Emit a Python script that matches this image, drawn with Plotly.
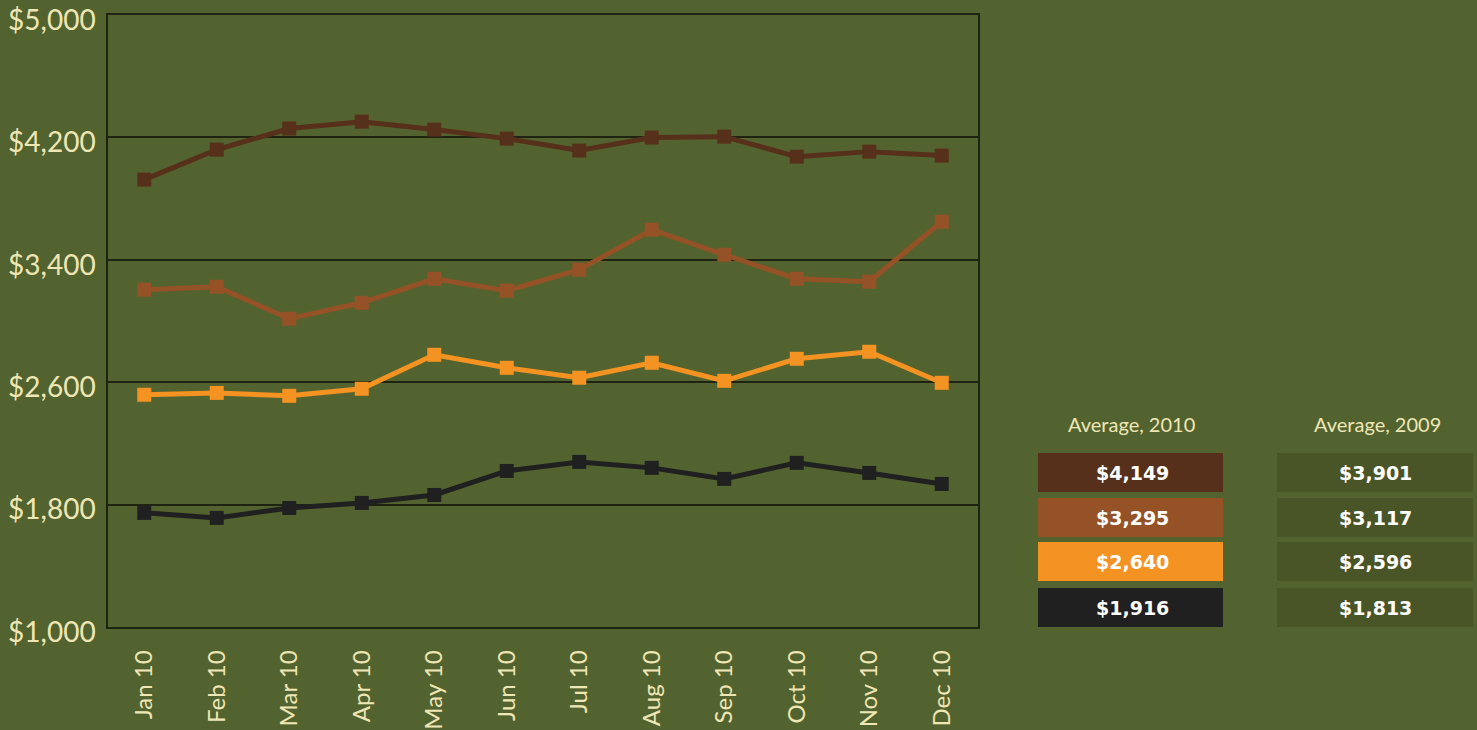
import plotly.graph_objects as go

# Monthly averages, 2010
months = ["Jan 10", "Feb 10", "Mar 10", "Apr 10", "May 10", "Jun 10",
          "Jul 10", "Aug 10", "Sep 10", "Oct 10", "Nov 10", "Dec 10"]
series_top = [3924, 4120, 4258, 4303, 4251, 4192, 4114, 4199, 4205, 4074, 4107, 4081]
series_upper = [3204, 3224, 3015, 3119, 3276, 3198, 3335, 3597, 3433, 3276, 3257, 3649]
series_lower = [2518, 2530, 2511, 2557, 2779, 2694, 2629, 2727, 2609, 2753, 2799, 2596]
series_bottom = [1746, 1713, 1778, 1811, 1863, 2020, 2079, 2040, 1968, 2073, 2007, 1935]

avg_2010 = [4149, 3295, 2640, 1916]
avg_2009 = [3901, 3117, 2596, 1813]
header_2010 = "Average, 2010"
header_2009 = "Average, 2009"

y_ticks = [1000, 1800, 2600, 3400, 4200, 5000]

colors = ["#56301a", "#955226", "#f49222", "#202020"]
bg = "#53632f"
cream = "#efe6b5"

W, H = 1477, 730
L, R, T, B = 108, 978, 15, 627

fig = go.Figure()
for vals, col in zip([series_top, series_upper, series_lower, series_bottom], colors):
    fig.add_trace(go.Scatter(
        x=months, y=vals, mode="lines+markers",
        line=dict(color=col, width=5),
        marker=dict(symbol="square", size=14, color=col),
        showlegend=False, hoverinfo="skip"))


def px_x(x):
    return (x - L) / (R - L)


def px_y(y):
    return (B - y) / (B - T)


# Average tables on the right
box_rows = [(453, 492), (498, 537), (542, 581), (588, 627)]
shapes = []
annotations = []
for i, (y0, y1) in enumerate(box_rows):
    shapes.append(dict(type="rect", xref="paper", yref="paper",
                       x0=px_x(1038), x1=px_x(1223), y0=px_y(y1), y1=px_y(y0),
                       fillcolor=colors[i], line=dict(width=0), layer="above"))
    shapes.append(dict(type="rect", xref="paper", yref="paper",
                       x0=px_x(1277), x1=px_x(1473), y0=px_y(y1), y1=px_y(y0),
                       fillcolor="#4a5527", line=dict(width=0), layer="above"))
    yc = px_y((y0 + y1) / 2)
    annotations.append(dict(xref="paper", yref="paper", x=px_x(1132), y=yc,
                            text=f"${avg_2010[i]:,}", showarrow=False,
                            font=dict(family="DejaVu Sans", size=19, color="white", weight="bold"),
                            xanchor="center", yanchor="middle"))
    annotations.append(dict(xref="paper", yref="paper", x=px_x(1375), y=yc,
                            text=f"${avg_2009[i]:,}", showarrow=False,
                            font=dict(family="DejaVu Sans", size=19, color="white", weight="bold"),
                            xanchor="center", yanchor="middle"))

for text, xc in [(header_2010, 1131), (header_2009, 1377)]:
    annotations.append(dict(xref="paper", yref="paper", x=px_x(xc), y=px_y(424),
                            text=text, showarrow=False,
                            font=dict(family="Lato", size=20, color=cream),
                            xanchor="center", yanchor="middle"))

fig.update_layout(
    width=W, height=H,
    margin=dict(l=L, r=W - R, t=T, b=H - B),
    paper_bgcolor=bg, plot_bgcolor=bg,
    shapes=shapes, annotations=annotations,
    xaxis=dict(type="category", range=[-0.5, 11.5], showgrid=False, automargin=False,
               showline=True, mirror=True, linecolor="#1e2312", linewidth=1.5,
               tickangle=-90, ticks="outside", ticklen=12, tickcolor="rgba(0,0,0,0)",
               tickfont=dict(family="Lato", size=24, color=cream)),
    yaxis=dict(range=[1000, 5000], tickvals=y_ticks, automargin=False,
               ticktext=[f"${v:,}" for v in y_ticks],
               showgrid=True, gridcolor="#1e2312", gridwidth=1.5,
               zeroline=False, ticklabeloverflow="allow", ticklabelshift=5,
               showline=True, mirror=True, linecolor="#1e2312", linewidth=1.5,
               ticks="outside", ticklen=5, tickcolor="rgba(0,0,0,0)",
               tickfont=dict(family="Lato", size=28, color=cream)),
)

fig.write_html("out.html")
